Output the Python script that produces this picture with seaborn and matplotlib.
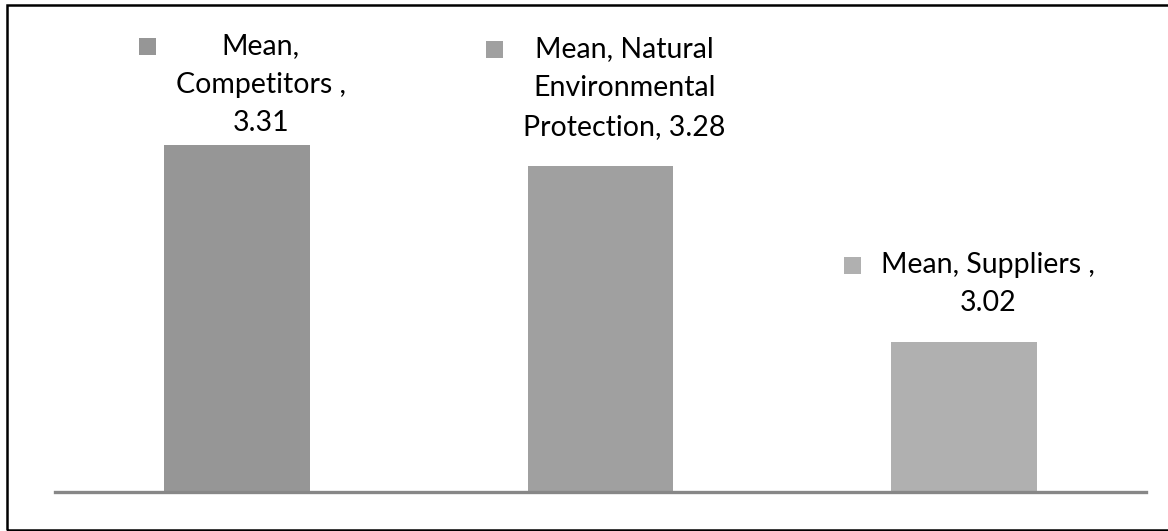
import matplotlib
matplotlib.use("Agg")
import matplotlib.pyplot as plt
from matplotlib.patches import Rectangle
from matplotlib.transforms import IdentityTransform
import seaborn as sns
import pandas as pd

# Mean scores per factor
categories = ["Competitors", "Natural Environmental Protection", "Suppliers"]
means = [3.31, 3.28, 3.02]
label_formats = [
    "Mean,\nCompetitors ,\n{:.2f}",
    "Mean, Natural\nEnvironmental\nProtection, {:.2f}",
    "Mean, Suppliers ,\n{:.2f}",
]
bar_colors = ["#969696", "#a0a0a0", "#b0b0b0"]

sns.set_theme(style="white")
plt.rcParams["font.family"] = ["Lato", "DejaVu Sans"]

W, H, DPI = 1168, 531, 100
fig = plt.figure(figsize=(W / DPI, H / DPI), dpi=DPI)
ax = fig.add_axes([55 / W, 39 / H, (1146 - 55) / W, 476 / H])

df = pd.DataFrame({"category": categories, "mean": means})
sns.barplot(data=df, x="category", y="mean", hue="category",
            palette=bar_colors, width=0.4, saturation=1, legend=False,
            edgecolor="none", ax=ax)

ax.set_xlim(-0.5, 2.5)
ax.set_ylim(2.8, 3.5)
ax.set_xticks([])
ax.set_yticks([])
ax.set_xlabel("")
ax.set_ylabel("")
for side in ("left", "right", "top"):
    ax.spines[side].set_visible(False)
ax.spines["bottom"].set_color("#878787")
ax.spines["bottom"].set_linewidth(2.4)

# data labels with a small colour key to the left of each label
gaps = [9, 26, 26]
texts = []
for i, (fmt, v, gap) in enumerate(zip(label_formats, means, gaps)):
    t = ax.annotate(fmt.format(v), xy=(i, v), xytext=(24, gap),
                    textcoords="offset pixels", ha="center", va="bottom",
                    multialignment="center", fontsize=20.5, linespacing=1.6,
                    color="black")
    texts.append(t)

fig.canvas.draw()
renderer = fig.canvas.get_renderer()
key = 17
for t, c in zip(texts, bar_colors):
    bb = t.get_window_extent(renderer)
    fig.add_artist(Rectangle((bb.x0 - 20 - key, bb.y1 - 5 - key), key, key,
                             transform=IdentityTransform(), facecolor=c,
                             edgecolor="none"))

# chart frame
fig.add_artist(Rectangle((7 / W, 1.5 / H), 1.2, (526 - 1.5) / H,
                         transform=fig.transFigure, fill=False,
                         edgecolor="black", linewidth=1.8))

fig.savefig("out.png", dpi=DPI)
